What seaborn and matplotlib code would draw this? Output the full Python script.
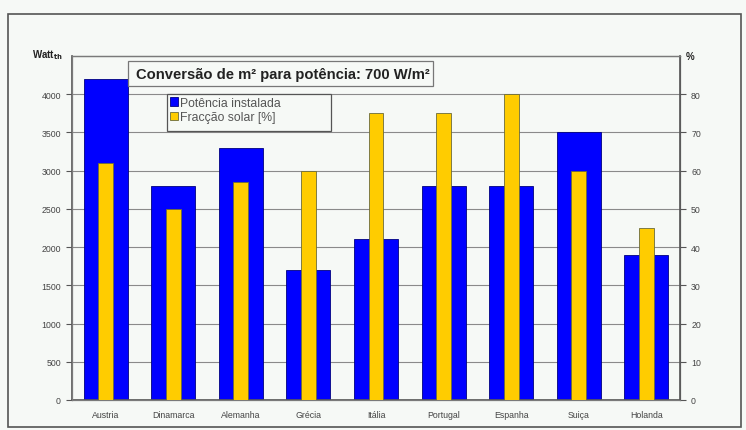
import matplotlib
matplotlib.use("Agg")
import matplotlib.pyplot as plt
import seaborn as sns
import pandas as pd
import numpy as np
from matplotlib.patches import Rectangle, Patch

countries = ["Austria", "Dinamarca", "Alemanha", "Grécia", "Itália",
             "Portugal", "Espanha", "Suiça", "Holanda"]
potencia = [4200, 2800, 3300, 1700, 2100, 2800, 2800, 3500, 1900]
fraccao = [62, 50, 57, 60, 75, 75, 80, 60, 45]
left_ticks = [0, 500, 1000, 1500, 2000, 2500, 3000, 3500, 4000]
right_ticks = [0, 10, 20, 30, 40, 50, 60, 70, 80]

df = pd.DataFrame({"pais": countries, "potencia": potencia, "fraccao": fraccao})

sns.set_style("white")
plt.rcParams["font.family"] = ["Liberation Sans", "DejaVu Sans"]

W, H = 746, 431
fig = plt.figure(figsize=(W / 100, H / 100), dpi=100)
bg = "#f6f9f6"
fig.patch.set_facecolor(bg)

def fx(px):
    return px / W

def fy(py):
    return 1 - py / H

ax = fig.add_axes([fx(72), fy(401), fx(680) - fx(72), fy(57) - fy(401)])
ax.set_facecolor(bg)

sns.barplot(data=df, x="pais", y="potencia", ax=ax, color="#0000ff",
            width=0.65, saturation=1, edgecolor="#000080", linewidth=0.6,
            zorder=2)
ax.set_ylim(0, 4500)
ax.set_xlim(-0.5, len(countries) - 0.5)
ax.set_yticks(left_ticks)
ax.set_yticklabels([str(v) for v in left_ticks])
ax.grid(axis="y", color="#8a8a8a", linewidth=0.8, zorder=0)
ax.set_axisbelow(True)
ax.set_xlabel("")
ax.set_ylabel("")

ax2 = ax.twinx()
sns.barplot(data=df, x="pais", y="fraccao", ax=ax2, color="#ffcc00",
            width=0.22, saturation=1, edgecolor="#6b6b3a", linewidth=0.6,
            zorder=3)
ax2.set_ylim(0, 90)
ax2.set_xlim(-0.5, len(countries) - 0.5)
ax2.set_yticks(right_ticks)
ax2.set_yticklabels([str(v) for v in right_ticks])
ax2.set_ylabel("")
ax2.set_xlabel("")

for a in (ax, ax2):
    for s in a.spines.values():
        s.set_color("#7a7a7a")
        s.set_linewidth(0.9)
ax.spines["left"].set_color("#555555")
ax.spines["left"].set_linewidth(1.2)
ax2.spines["right"].set_color("#555555")
ax2.spines["right"].set_linewidth(1.2)
ax.spines["bottom"].set_color("#555555")
ax.spines["bottom"].set_linewidth(1.2)

tick_fs = 6.3
ax.tick_params(axis="y", length=4, width=0.8, color="#555555",
               labelsize=tick_fs, labelcolor="#444444", pad=4)
ax2.tick_params(axis="y", length=4, width=0.8, color="#555555",
                labelsize=tick_fs, labelcolor="#444444", pad=4)
ax.tick_params(axis="x", which="major", length=0, labelsize=tick_fs,
               labelcolor="#444444", pad=7)
ax.set_xticks(np.arange(-0.5, len(countries) + 0.5, 1), minor=True)
ax.tick_params(axis="x", which="minor", length=3, width=0.8, color="#555555")

# Axis unit labels
fig.text(fx(32), fy(55), r"Watt$_{\mathbf{th}}$", fontsize=7,
         fontweight="bold", color="#222222", ha="left", va="center")
fig.text(fx(686), fy(57), "%", fontsize=7, fontweight="bold",
         color="#222222", ha="left", va="center")

# Title box
fig.patches.append(Rectangle((fx(128), fy(87)), fx(433) - fx(128),
                             fy(62) - fy(87), transform=fig.transFigure,
                             facecolor=bg, edgecolor="#777777",
                             linewidth=0.9, zorder=5))
fig.text(fx(136), fy(74.5), "Conversão de m² para potência: 700 W/m²",
         fontsize=10.6, fontweight="bold", color="#222222", ha="left",
         va="center", zorder=6)

# Legend
fig.patches.append(Rectangle((fx(167), fy(132)), fx(331) - fx(167),
                             fy(95) - fy(132), transform=fig.transFigure,
                             facecolor=bg, edgecolor="#555555",
                             linewidth=0.9, zorder=5))
handles = [Patch(facecolor="#0000ff", edgecolor="#000080", linewidth=0.6,
                 label="Potência instalada"),
           Patch(facecolor="#ffcc00", edgecolor="#6b6b3a", linewidth=0.6,
                 label="Fracção solar [%]")]
leg = fig.legend(handles=handles, loc="upper left",
                 bbox_to_anchor=(fx(168), fy(96)), frameon=False,
                 fontsize=8.8, handlelength=0.65, handleheight=0.7,
                 handletextpad=0.2, borderpad=0.15, labelspacing=0.2,
                 borderaxespad=0)
leg.set_zorder(6)
for t in leg.get_texts():
    t.set_color("#555555")

# Outer frame
fig.patches.append(Rectangle((fx(8), fy(428)), fx(741) - fx(8),
                             fy(15) - fy(428), transform=fig.transFigure,
                             facecolor="none", edgecolor="#555555",
                             linewidth=1.2, zorder=0))

fig.savefig("out.png", dpi=100, facecolor=fig.get_facecolor())
